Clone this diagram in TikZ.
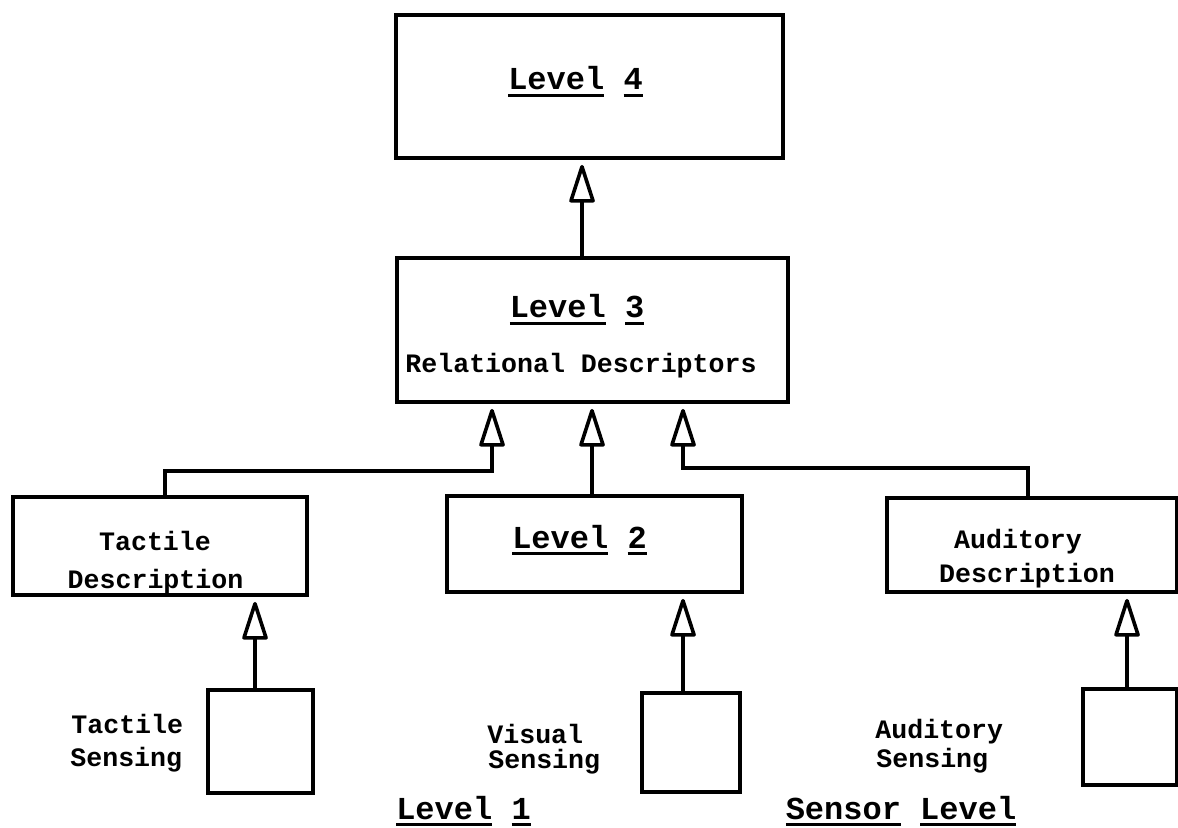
\documentclass[tikz,border=0pt]{standalone}
\usepackage{fontspec}
\setmonofont{Liberation Mono}
\usetikzlibrary{arrows.meta,calc}
\newcommand\ulw[1]{\setbox0=\hbox{#1}\rlap{\rule[-3.3pt]{\wd0}{1.2pt}}\box0\relax}
\tikzset{
  box/.style={draw, line width=1.9pt, inner sep=0pt},
  big/.style={font=\ttfamily\bfseries\fontsize{16}{18}\selectfont, inner sep=0pt},
  small/.style={font=\ttfamily\bfseries\fontsize{13.3}{16}\selectfont, inner sep=0pt},
  up/.style={-{Triangle[open,length=21pt,width=13pt,round]}, line width=1.8pt, shorten >=2.5pt}
}
\begin{document}
\begin{tikzpicture}[x=0.5pt,y=-0.5pt]
\useasboundingbox (0,0) rectangle (1178,828);
% boxes
\node[box, minimum width=193.5pt, minimum height=71.5pt] (L4) at (589.5,86.5) {};
\node[box, minimum width=195.5pt, minimum height=72pt] (L3) at (592.5,330) {};
\node[box, minimum width=147pt, minimum height=49pt] (TD) at (160,546) {};
\node[box, minimum width=147.5pt, minimum height=48pt] (L2) at (594.5,544) {};
\node[box, minimum width=145pt, minimum height=47pt] (AD) at (1032,545) {};
\node[box, minimum width=52.5pt, minimum height=51.5pt] (TS) at (260.5,741.5) {};
\node[box, minimum width=49pt, minimum height=49.5pt] (VS) at (691,742.5) {};
\node[box, minimum width=47pt, minimum height=48pt] (AS) at (1130,737) {};
% texts
\node[big, anchor=base] (tL4) at (575.5,90) {\ulw{Level} \ulw{4}};
\node[big, anchor=base] (tL3) at (577,318) {\ulw{Level} \ulw{3}};
\node[small, anchor=base] (tRD) at (581,373) {Relational Descriptors};
\node[small, anchor=base] (tTD1) at (155,550) {Tactile};
\node[small, anchor=base] (tTD2) at (155.5,588) {Description};
\node[big, anchor=base] (tL2) at (579.5,548) {\ulw{Level} \ulw{2}};
\node[small, anchor=base] (tAD1) at (1018,548) {Auditory};
\node[small, anchor=base] (tAD2) at (1027,582) {Description};
\node[small, anchor=base west] (tTS1) at (71,733) {Tactile};
\node[small, anchor=base west] (tTS2) at (70,766) {Sensing};
\node[small, anchor=base west] (tVS1) at (487,743) {Visual};
\node[small, anchor=base west] (tVS2) at (488,768) {Sensing};
\node[small, anchor=base west] (tAS1) at (875,738) {Auditory};
\node[small, anchor=base west] (tAS2) at (876,767) {Sensing};
\node[big, anchor=base] (tL1) at (463.5,819) {\ulw{Level} \ulw{1}};
\node[big, anchor=base] (tSL) at (901,819) {\ulw{Sensor} \ulw{Level}};
% connector coordinates
\coordinate (x4) at (582,0);
\coordinate (xT) at (165,0);
\coordinate (jT) at (492,471);
\coordinate (xV) at (592,0);
\coordinate (xA) at (1028,0);
\coordinate (jA) at (683,468);
\coordinate (xTS) at (255,0);
\coordinate (xVS) at (683,0);
\coordinate (xAS) at (1127,0);
% connectors
\draw[up] (L3.north -| x4) -- (L4.south -| x4);
\draw[up] (TD.north -| xT) |- (jT) -- (jT |- L3.south);
\draw[up] (L2.north -| xV) -- (L3.south -| xV);
\draw[up] (AD.north -| xA) |- (jA) -- (jA |- L3.south);
\draw[up] (TS.north -| xTS) -- (TD.south -| xTS);
\draw[up] (VS.north -| xVS) -- (L2.south -| xVS);
\draw[up] (AS.north -| xAS) -- (AD.south -| xAS);
\end{tikzpicture}
\end{document}
